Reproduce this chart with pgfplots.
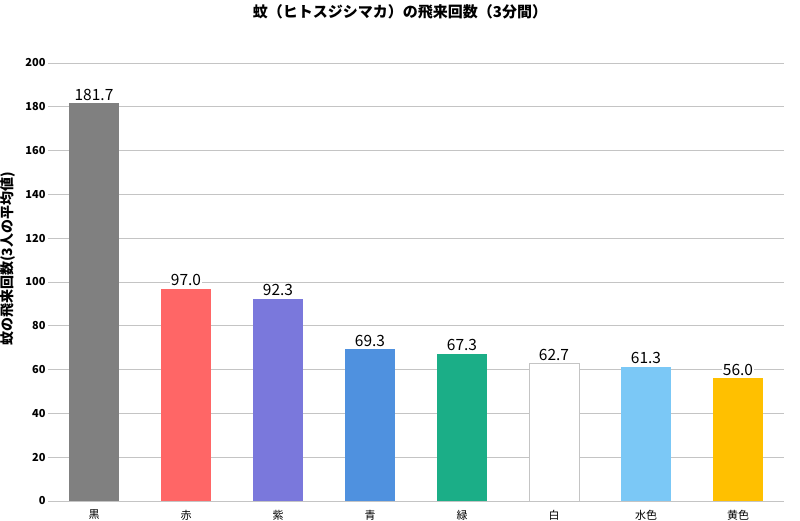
\documentclass[border=0pt]{standalone}
\usepackage{pgfplots}
\pgfplotsset{compat=1.18}
\usepackage{fontspec}
\setmainfont{Noto Sans CJK JP}

\definecolor{cBlack}{HTML}{808080}
\definecolor{cRed}{HTML}{FF6666}
\definecolor{cPurple}{HTML}{7A78DC}
\definecolor{cBlue}{HTML}{4F91DF}
\definecolor{cGreen}{HTML}{1BAE87}
\definecolor{cWhiteEdge}{HTML}{C4C4C4}
\definecolor{cLightBlue}{HTML}{7BC8F6}
\definecolor{cYellow}{HTML}{FFC000}
\definecolor{gridc}{HTML}{C4C4C4}

\begin{document}
\begin{tikzpicture}[x=1pt,y=1pt]
\useasboundingbox (0,0) rectangle (800,520);
\begin{axis}[
  at={(48pt,19pt)}, anchor=south west,
  scale only axis, width=736pt, height=438pt,
  ybar, bar width=50pt,
  xmin=-0.5, xmax=7.5, ymin=0, ymax=200,
  xtick={0,...,7},
  xticklabels={黒,赤,紫,青,緑,白,水色,黄色},
  ytick={0,20,...,200},
  ymajorgrids, grid style={draw=gridc, line width=0.8pt},
  axis line style={draw=none},
  tick style={draw=none},
  xticklabel style={font=\fontsize{11}{12}\selectfont, yshift=-1pt},
  yticklabel style={font=\bfseries\fontsize{11}{12}\selectfont, xshift=1pt},
  /pgf/number format/assume math mode=true,
  nodes near coords={\pgfmathprintnumber[fixed,fixed zerofill,precision=1]{\pgfplotspointmeta}},
  every node near coord/.append style={font=\fontsize{15.5}{17}\selectfont, fill=white, inner sep=1pt, anchor=south, yshift=1.5pt},
  clip=false,
]
\addplot[fill=cBlack, draw=none, bar shift=0pt] coordinates {(0,181.7)};
\addplot[fill=cRed, draw=none, bar shift=0pt] coordinates {(1,97.0)};
\addplot[fill=cPurple, draw=none, bar shift=0pt] coordinates {(2,92.3)};
\addplot[fill=cBlue, draw=none, bar shift=0pt] coordinates {(3,69.3)};
\addplot[fill=cGreen, draw=none, bar shift=0pt] coordinates {(4,67.3)};
\addplot[fill=white, draw=cWhiteEdge, line width=0.8pt, bar shift=0pt] coordinates {(5,62.7)};
\addplot[fill=cLightBlue, draw=none, bar shift=0pt] coordinates {(6,61.3)};
\addplot[fill=cYellow, draw=none, bar shift=0pt] coordinates {(7,56.0)};
\end{axis}
\node[font=\bfseries\fontsize{15}{17}\selectfont] at (400,508) {蚊（ヒトスジシマカ）の飛来回数（3分間）};
\node[font=\bfseries\fontsize{14}{16}\selectfont, rotate=90] at (8,261) {蚊の飛来回数(3人の平均値)};
\end{tikzpicture}
\end{document}
